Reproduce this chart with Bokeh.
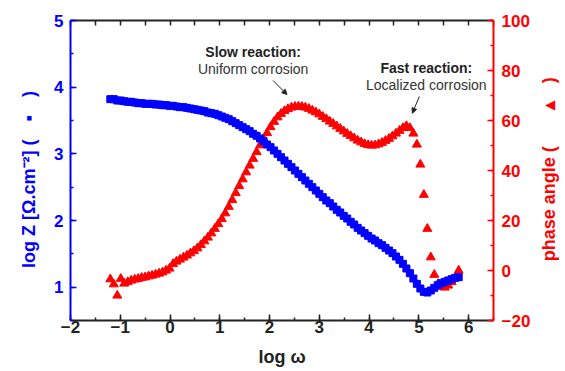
import math
from bokeh.plotting import figure
from bokeh.layouts import row
from bokeh.models import Range1d, LinearAxis, SingleIntervalTicker, FixedTicker, Label, Arrow, NormalHead
from bokeh.embed import file_html
from bokeh.resources import INLINE

log_w = [-1.20, -1.13, -1.06, -0.99, -0.92, -0.85, -0.78, -0.71, -0.64, -0.57,
         -0.50, -0.43, -0.36, -0.29, -0.22, -0.15, -0.08, -0.01, 0.06, 0.13,
         0.20, 0.27, 0.34, 0.41, 0.48, 0.55, 0.62, 0.69, 0.76, 0.83,
         0.90, 0.97, 1.04, 1.11, 1.18, 1.25, 1.32, 1.39, 1.46, 1.53,
         1.60, 1.67, 1.74, 1.81, 1.88, 1.95, 2.02, 2.09, 2.16, 2.23,
         2.30, 2.37, 2.44, 2.51, 2.58, 2.65, 2.72, 2.79, 2.86, 2.93,
         3.00, 3.07, 3.14, 3.21, 3.28, 3.35, 3.42, 3.49, 3.56, 3.63,
         3.70, 3.77, 3.84, 3.91, 3.98, 4.05, 4.12, 4.19, 4.26, 4.33,
         4.40, 4.47, 4.54, 4.61, 4.68, 4.75, 4.82, 4.89, 4.96, 5.03,
         5.10, 5.17, 5.24, 5.31, 5.38, 5.45, 5.52, 5.59, 5.66, 5.73, 5.80]

log_z = [3.82, 3.82, 3.80, 3.80, 3.79, 3.78, 3.78, 3.77, 3.76, 3.76,
         3.75, 3.75, 3.75, 3.74, 3.74, 3.73, 3.73, 3.72, 3.72, 3.71,
         3.70, 3.70, 3.69, 3.68, 3.67, 3.66, 3.65, 3.64, 3.62, 3.61,
         3.60, 3.58, 3.56, 3.54, 3.52, 3.49, 3.46, 3.43, 3.40, 3.37,
         3.34, 3.30, 3.27, 3.23, 3.19, 3.14, 3.10, 3.05, 3.00, 2.95,
         2.90, 2.85, 2.80, 2.75, 2.70, 2.65, 2.60, 2.55, 2.50, 2.45,
         2.40, 2.35, 2.30, 2.26, 2.21, 2.16, 2.12, 2.07, 2.03, 1.98,
         1.94, 1.89, 1.85, 1.81, 1.77, 1.73, 1.70, 1.66, 1.63, 1.59,
         1.55, 1.51, 1.46, 1.41, 1.35, 1.28, 1.21, 1.13, 1.05, 0.98,
         0.93, 0.92, 0.95, 0.99, 1.03, 1.06, 1.08, 1.10, 1.12, 1.14, 1.15]

phase = [-3.5, -5.5, -10.0, -3.3, -5.2, -4.6, -4.0, -3.6, -3.3, -2.9,
         -2.7, -2.3, -2.0, -1.6, -1.2, -0.7, 0.0, 0.8, 2.6, 3.6,
         4.4, 5.2, 6.0, 6.9, 7.8, 8.9, 10.2, 11.7, 13.2, 14.9,
         16.7, 18.6, 20.6, 22.9, 25.5, 28.2, 31.0, 33.8, 36.5, 39.3,
         42.0, 44.7, 47.4, 50.1, 52.6, 55.0, 57.4, 59.5, 61.3, 62.7,
         63.8, 64.6, 65.2, 65.5, 65.6, 65.5, 65.2, 64.7, 64.0, 63.3,
         62.5, 61.5, 60.6, 59.6, 58.7, 57.7, 56.7, 55.7, 54.7, 53.8,
         52.9, 52.0, 51.3, 50.6, 50.2, 50.0, 50.1, 50.5, 51.1, 51.9,
         52.7, 53.7, 54.8, 55.9, 57.0, 57.8, 57.0, 54.8, 50.4, 42.4,
         30.3, 16.7, 5.3, -1.7, -5.5, -6.5, -6.8, -6.0, -4.6, -3.0, 0.0]

BLUE = "#0000FF"
RED = "#FF0000"
FONT = "Liberation Sans"

p = figure(width=537, height=371, x_range=Range1d(-2, 6.5), y_range=Range1d(0.5, 5),
           output_backend="svg", toolbar_location=None,
           min_border_left=70, min_border_right=44, min_border_top=20, min_border_bottom=51)
p.extra_y_ranges = {"phase": Range1d(-20, 100)}
p.grid.visible = False
p.outline_line_color = None
p.background_fill_color = "white"


def style_axis(ax, color, interval):
    ax.ticker = SingleIntervalTicker(interval=interval, num_minor_ticks=2)
    ax.axis_line_color = color
    ax.axis_line_width = 2
    ax.major_tick_line_color = color
    ax.minor_tick_line_color = color
    ax.major_tick_line_width = 1.5
    ax.minor_tick_line_width = 1.5
    ax.major_tick_in = 6
    ax.major_tick_out = 0
    ax.minor_tick_in = 3
    ax.minor_tick_out = 0
    ax.major_label_text_color = color
    ax.major_label_text_font = FONT
    ax.major_label_text_font_style = "bold"
    ax.major_label_text_font_size = "17px"
    ax.axis_label_text_color = color
    ax.axis_label_text_font = FONT
    ax.axis_label_text_font_style = "bold"
    ax.axis_label_text_font_size = "18px"


xa = p.xaxis[0]
style_axis(xa, "#222222", 1)
xa.axis_label = "log ω"
xa.major_label_standoff = 0
xa.axis_label_standoff = 11

ya = p.yaxis[0]
style_axis(ya, BLUE, 1)
ya.axis_label = "log Z [Ω.cm⁻²] (\u2003▪\u2003)\u2003"
ya.major_label_standoff = 7
ya.axis_label_standoff = 12

ra = LinearAxis(y_range_name="phase")
style_axis(ra, RED, 20)
ra.major_label_standoff = 8
p.add_layout(ra, "right")

# top frame edge: ticks only, no labels
ta = LinearAxis()
style_axis(ta, "#222222", 1)
ta.ticker = FixedTicker(ticks=[], minor_ticks=[-2 + 0.5 * k for k in range(18)])
ta.minor_tick_in = 5
p.add_layout(ta, "above")

p.scatter(log_w, phase, marker="triangle", size=9, color=RED, y_range_name="phase")
p.scatter(log_w, log_z, marker="square", size=7, color=BLUE)


def add_text(x, y, txt, bold):
    p.add_layout(Label(x=x, y=y, text=txt, text_align="center", text_baseline="middle",
                       text_font=FONT, text_font_size="14px",
                       text_font_style="bold" if bold else "normal",
                       text_color="#222222" if bold else "#333333"))


add_text(1.67, 4.535, "Slow reaction:", True)
add_text(1.67, 4.28, "Uniform corrosion", False)
add_text(5.15, 4.295, "Fast reaction:", True)
add_text(5.15, 4.03, "Localized corrosion", False)

p.add_layout(Arrow(end=NormalHead(size=5, fill_color="#222222", line_color="#222222"),
                   x_start=2.07, y_start=4.10, x_end=2.35, y_end=3.89,
                   line_color="#222222", line_width=1))
p.add_layout(Arrow(end=NormalHead(size=5, fill_color="#222222", line_color="#222222"),
                   x_start=5.01, y_start=3.86, x_end=4.87, y_end=3.61,
                   line_color="#222222", line_width=1))

# narrow strip holding the right-hand axis title, reading bottom to top
q = figure(width=28, height=371, x_range=Range1d(0, 28), y_range=Range1d(0, 371),
           x_axis_type=None, y_axis_type=None, output_backend="svg", toolbar_location=None,
           min_border=0)
q.grid.visible = False
q.outline_line_color = None
q.add_layout(Label(x=11, y=187, text="phase angle (\u2003\u2003▴\u2003)",
                   angle=math.pi / 2, text_align="center", text_baseline="middle",
                   text_font=FONT, text_font_size="18px", text_font_style="bold",
                   text_color=RED))

layout = row(p, q, spacing=0)
open("out.html", "w").write(file_html(layout, INLINE))
